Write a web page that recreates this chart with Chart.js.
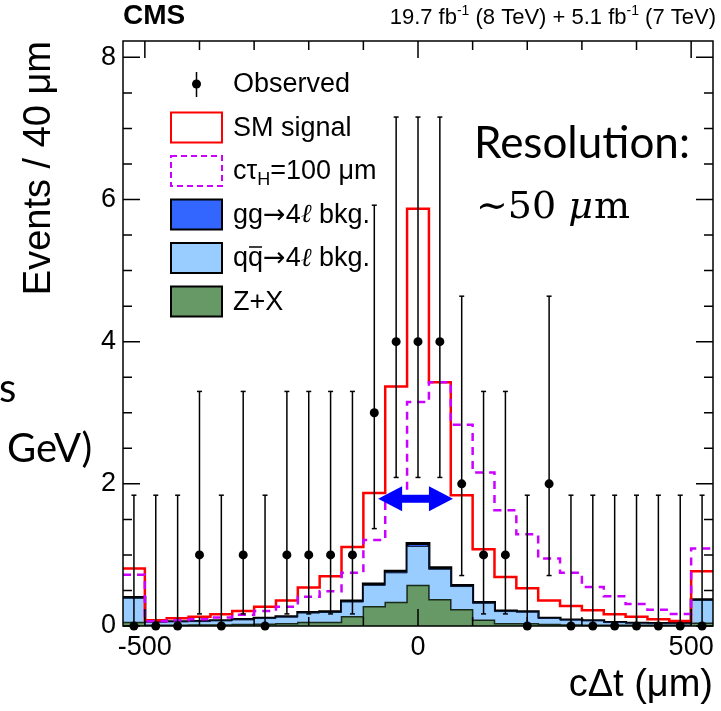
<!DOCTYPE html>
<html><head><meta charset="utf-8">
<script src="https://cdn.jsdelivr.net/npm/chart.js@4.4.0/dist/chart.umd.min.js"></script>
<style>html,body{margin:0;padding:0;background:#fff;}#wrap{width:721px;height:711px;}</style>
</head><body><div id="wrap"><canvas id="c" width="721" height="711"></canvas></div>
<script>
// ---- data (27 bins of 40 um, c*dt) ----
const binCenters = [-520,-480,-440,-400,-360,-320,-280,-240,-200,-160,-120,-80,-40,0,40,80,120,160,200,240,280,320,360,400,440,480,520];
const binWidth = 40;
const observed = [0,0,0,1,0,1,0,1,1,1,1,3,4,4,4,2,1,1,0,2,0,0,0,0,0,0,0];
const obsErrLow  = [0,0,0,0.83,0,0.83,0,0.83,0.83,0.83,0.83,1.63,1.91,1.91,1.91,1.29,0.83,0.83,0,1.29,0,0,0,0,0,0,0];
const obsErrHigh = [1.84,1.84,1.84,2.30,1.84,2.30,1.84,2.30,2.30,2.30,2.30,2.92,3.16,3.16,3.16,2.64,2.30,2.30,1.84,2.64,1.84,1.84,1.84,1.84,1.84,1.84,1.84];
// stacked heights as drawn (signal + background)
const smSignal = [0.81,0.08,0.11,0.13,0.165,0.21,0.27,0.36,0.54,0.70,1.11,1.87,3.37,5.87,3.43,1.84,1.08,0.69,0.53,0.36,0.28,0.22,0.165,0.13,0.095,0.07,0.77];
const ctau100  = [0.72,0.066,0.08,0.094,0.12,0.16,0.21,0.27,0.41,0.49,0.75,1.21,1.82,3.15,3.43,2.83,2.16,1.63,1.29,0.95,0.75,0.55,0.42,0.31,0.23,0.17,1.09];
// background components
const zxBkg = [0.05,0.01,0.012,0.015,0.015,0.02,0.025,0.03,0.05,0.05,0.13,0.27,0.33,0.57,0.37,0.23,0.08,0.03,0.03,0.02,0.015,0.01,0.01,0.01,0.01,0.01,0.04];
const qqBkg = [0.34,0.043,0.046,0.047,0.057,0.066,0.08,0.094,0.132,0.14,0.208,0.302,0.418,0.55,0.428,0.325,0.24,0.173,0.164,0.086,0.067,0.062,0.038,0.028,0.023,0.023,0.32];
const ggBkg = [0.01,0.002,0.002,0.003,0.003,0.004,0.005,0.006,0.008,0.01,0.012,0.018,0.022,0.04,0.022,0.015,0.01,0.007,0.006,0.004,0.003,0.003,0.002,0.002,0.002,0.002,0.01];
const xTickValues = [-500,-400,-300,-200,-100,0,100,200,300,400,500];
const xTickLabels = [-500,0,500];
const yTickValues = [0,0.5,1,1.5,2,2.5,3,3.5,4,4.5,5,5.5,6,6.5,7,7.5,8];
const yTickLabels = [0,2,4,6,8];
const seriesNames = ['Observed','SM signal','c\u03C4H=100 \u03BCm','gg\u21924\u2113 bkg.','qq\u0305\u21924\u2113 bkg.','Z+X'];

// ---- helpers ----
function stepPoints(vals){
  const pts=[];
  vals.forEach((v,i)=>{pts.push({x:binCenters[i]-binWidth/2,y:v});pts.push({x:binCenters[i]+binWidth/2,y:v});});
  return pts;
}
const stackZX = zxBkg.slice();
const stackQQ = zxBkg.map((v,i)=>v+qqBkg[i]);
const stackGG = stackQQ.map((v,i)=>v+ggBkg[i]);

const SANS = '"Liberation Sans", Arial, sans-serif';
const GREEN='#669966', LBLUE='#99ccff', DBLUE='#3366ff', MAG='#cc00ff';

function drawRuns(ctx,runs,x,y){
  runs.forEach(r=>{ctx.font=r.f;ctx.fillText(r.t,x,y+(r.dy||0));x+=ctx.measureText(r.t).width+(r.gap||0);});
  return x;
}

// ---- plugins ----
const errorBars = {
  id:'errorBars',
  beforeDatasetDraw(chart,args){
    if(args.index!==0) return;
    const {ctx,scales:{x,y}}=chart;
    ctx.save();ctx.strokeStyle='#000';ctx.lineWidth=1.5;
    binCenters.forEach((c,i)=>{
      const px=x.getPixelForValue(c);
      const lo=y.getPixelForValue(observed[i]-obsErrLow[i]);
      const hi=y.getPixelForValue(observed[i]+obsErrHigh[i]);
      ctx.beginPath();ctx.moveTo(px,lo);ctx.lineTo(px,hi);ctx.stroke();
      ctx.beginPath();ctx.moveTo(px-2.5,hi);ctx.lineTo(px+2.5,hi);ctx.stroke();
      if(obsErrLow[i]>0){ctx.beginPath();ctx.moveTo(px-2.5,lo);ctx.lineTo(px+2.5,lo);ctx.stroke();}
    });
    ctx.restore();
  }
};

const frameTicks = {
  id:'frameTicks',
  afterDatasetsDraw(chart){
    const {ctx,chartArea:a,scales:{x,y}}=chart;
    ctx.save();ctx.strokeStyle='#000';ctx.lineWidth=1.5;
    xTickValues.forEach(v=>{
      const px=x.getPixelForValue(v);const L=(v%500===0)?17:9;
      ctx.beginPath();ctx.moveTo(px,a.bottom);ctx.lineTo(px,a.bottom-L);ctx.moveTo(px,a.top);ctx.lineTo(px,a.top+L);ctx.stroke();
    });
    yTickValues.forEach(v=>{
      const py=y.getPixelForValue(v);const L=(v%2===0)?17:9;
      ctx.beginPath();ctx.moveTo(a.left,py);ctx.lineTo(a.left+L,py);ctx.moveTo(a.right,py);ctx.lineTo(a.right-L,py);ctx.stroke();
    });
    ctx.strokeRect(a.left,a.top,a.right-a.left,a.bottom-a.top);
    // resolution arrow (annotation in data units)
    const x1=x.getPixelForValue(-73), x2=x.getPixelForValue(64), ya=y.getPixelForValue(1.79);
    ctx.fillStyle='#0000ff';
    ctx.fillRect(x1+20,ya-4,x2-x1-40,8);
    ctx.beginPath();ctx.moveTo(x1,ya);ctx.lineTo(x1+24,ya-12.5);ctx.lineTo(x1+24,ya+12.5);ctx.closePath();ctx.fill();
    ctx.beginPath();ctx.moveTo(x2,ya);ctx.lineTo(x2-24,ya-12.5);ctx.lineTo(x2-24,ya+12.5);ctx.closePath();ctx.fill();
    ctx.restore();
  }
};

const texts = {
  id:'texts',
  afterDraw(chart){
    const {ctx,chartArea:a}=chart;
    ctx.save();ctx.fillStyle='#000';ctx.textBaseline='alphabetic';
    // CMS label
    ctx.font='bold 28px '+SANS;ctx.textAlign='left';ctx.fillText('CMS',a.left,24);
    // lumi label
    const F='22px '+SANS, S='14px '+SANS;
    const parts=[{t:'19.7 fb',f:F},{t:'-1',f:S,dy:-9},{t:' (8 TeV) + 5.1 fb',f:F},{t:'-1',f:S,dy:-9},{t:' (7 TeV)',f:F}];
    let w=0;parts.forEach(p=>{ctx.font=p.f;w+=ctx.measureText(p.t).width;});
    drawRuns(ctx,parts,a.right+3-w,24);
    // legend
    const lx0=171,lx1=222,tx=233;const rows=[84,127.5,171,214.5,258,301.5];
    const L27='27px '+SANS, ARW='27px "DejaVu Sans", sans-serif', ELL='italic 26px "DejaVu Serif", serif';
    ctx.textBaseline='middle';
    // observed
    ctx.strokeStyle='#000';ctx.lineWidth=1.5;
    ctx.beginPath();ctx.moveTo((lx0+lx1)/2,rows[0]-12);ctx.lineTo((lx0+lx1)/2,rows[0]+13);ctx.stroke();
    ctx.beginPath();ctx.arc((lx0+lx1)/2,rows[0],4.5,0,Math.PI*2);ctx.fill();
    ctx.font=L27;ctx.fillText(seriesNames[0],tx,rows[0]+1);
    // SM
    ctx.strokeStyle='#ff0000';ctx.lineWidth=2;ctx.strokeRect(lx0,rows[1]-15,lx1-lx0,30);
    ctx.fillText(seriesNames[1],tx,rows[1]+1);
    // ctau
    ctx.strokeStyle=MAG;ctx.setLineDash([6,4]);ctx.strokeRect(lx0,rows[2]-15,lx1-lx0,30);ctx.setLineDash([]);
    drawRuns(ctx,[{t:'c\u03C4',f:L27},{t:'H',f:'18px '+SANS,dy:8},{t:'=100 \u03BCm',f:L27}],tx,rows[2]+1);
    // filled boxes
    [[DBLUE,3],[LBLUE,4],[GREEN,5]].forEach(([col,r])=>{
      ctx.fillStyle=col;ctx.fillRect(lx0,rows[r]-15,lx1-lx0,30);
      ctx.strokeStyle='#000';ctx.lineWidth=2;ctx.strokeRect(lx0,rows[r]-15,lx1-lx0,30);
    });
    ctx.fillStyle='#000';
    drawRuns(ctx,[{t:'gg',f:L27},{t:'\u2192',f:ARW},{t:'4',f:L27},{t:'\u2113',f:ELL},{t:' bkg.',f:L27}],tx,rows[3]+1);
    ctx.font=L27;const q1=ctx.measureText('q').width;
    drawRuns(ctx,[{t:'qq',f:L27},{t:'\u2192',f:ARW},{t:'4',f:L27},{t:'\u2113',f:ELL},{t:' bkg.',f:L27}],tx,rows[4]+1);
    ctx.lineWidth=1.5;ctx.strokeStyle='#000';ctx.beginPath();ctx.moveTo(tx+q1+1,rows[4]-11);ctx.lineTo(tx+2*q1-1,rows[4]-11);ctx.stroke();
    ctx.font=L27;ctx.fillText(seriesNames[5],tx,rows[5]+1);
    // overlay annotations
    ctx.textBaseline='alphabetic';
    ctx.font='44px Lato, "Open Sans", sans-serif';ctx.fillText('Resolution:',474,158);
    const SER='38px "DejaVu Serif", serif';
    drawRuns(ctx,[{t:'\u223C50 ',f:SER},{t:'\u03BC',f:'italic '+SER,gap:1},{t:'m',f:SER}],476,218);
    ctx.font='40px Lato, "Open Sans", sans-serif';
    ctx.fillText('s',-1,402);ctx.fillText('GeV)',7,462);
    ctx.restore();
  }
};

const ctxEl=document.getElementById('c');
new Chart(ctxEl,{
  type:'line',
  data:{datasets:[
    {label:seriesNames[0],data:binCenters.map((c,i)=>({x:c,y:observed[i]})),showLine:false,pointRadius:4.5,pointHoverRadius:4.5,pointBackgroundColor:'#000',pointBorderWidth:0,borderColor:'#000',order:1,clip:false},
    {label:seriesNames[2],data:stepPoints(ctau100),borderColor:MAG,borderWidth:2.5,borderDash:[8,6],pointRadius:0,fill:false,tension:0,order:2},
    {label:seriesNames[1],data:stepPoints(smSignal),borderColor:'#ff0000',borderWidth:2.5,pointRadius:0,fill:false,tension:0,order:3},
    {label:seriesNames[5],data:stepPoints(stackZX),borderColor:'#1a2a1a',borderWidth:1.5,backgroundColor:GREEN,pointRadius:0,fill:'origin',tension:0,order:4},
    {label:seriesNames[4],data:stepPoints(stackQQ),borderColor:'#0a1a3a',borderWidth:1,backgroundColor:LBLUE,pointRadius:0,fill:'origin',tension:0,order:5},
    {label:seriesNames[3],data:stepPoints(stackGG),borderColor:'#000',borderWidth:3,backgroundColor:DBLUE,pointRadius:0,fill:'origin',tension:0,order:6}
  ]},
  options:{
    responsive:false,animation:false,devicePixelRatio:1,
    layout:{padding:{top:41,right:8,left:0,bottom:0}},
    plugins:{legend:{display:false},tooltip:{enabled:false}},
    scales:{
      x:{type:'linear',min:-540,max:540,
        afterBuildTicks:s=>{s.ticks=xTickValues.map(v=>({value:v}));},
        afterFit:s=>{s.height=85;},
        grid:{display:false,drawTicks:false},border:{display:false},
        ticks:{autoSkip:false,maxRotation:0,padding:5,color:'#000',font:{family:SANS,size:27},callback:v=>xTickLabels.includes(v)?String(v):''},
        title:{display:true,text:'c\u0394t (\u03BCm)',align:'end',color:'#000',font:{family:SANS,size:38},padding:{top:0,bottom:3}}
      },
      y:{type:'linear',min:0,max:8.23,
        afterBuildTicks:s=>{s.ticks=yTickValues.map(v=>({value:v}));},
        afterFit:s=>{s.width=123;},
        grid:{display:false,drawTicks:false},border:{display:false},
        ticks:{autoSkip:false,padding:7,color:'#000',font:{family:SANS,size:27},callback:v=>yTickLabels.includes(v)?String(v):''},
        title:{display:true,text:'Events / 40 \u03BCm',align:'end',color:'#000',font:{family:SANS,size:38},padding:{top:17,bottom:0}}
      }
    }
  },
  plugins:[errorBars,frameTicks,texts]
});
</script></body></html>
